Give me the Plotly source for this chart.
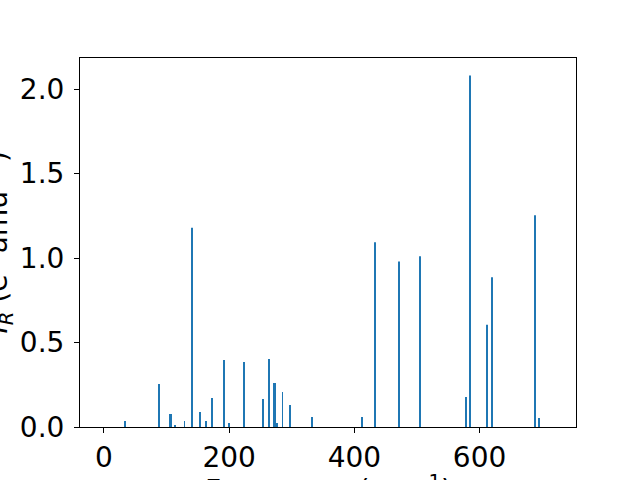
import plotly.graph_objects as go

# Frequencies (cm^-1) and IR intensities
freqs = [34, 88.4, 106.0, 107.2, 114, 128.8, 141, 153.9, 163.5, 172.0, 173.2,
         192.2, 200.2, 224, 254.5, 263, 272.0, 273.2, 276, 285, 297.7,
         331.5, 332.7, 412.6, 433.4, 471.7, 505.3, 578.8, 585.1, 612.3,
         620.3, 689, 695.4]
intens = [0.035, 0.254, 0.077, 0.077, 0.012, 0.035, 1.18, 0.089, 0.035, 0.171, 0.171,
          0.396, 0.024, 0.384, 0.166, 0.402, 0.26, 0.26, 0.024, 0.207, 0.13,
          0.059, 0.059, 0.059, 1.093, 0.98, 1.01, 0.177, 2.08, 0.605,
          0.886, 1.253, 0.053]
x_ticks = [0, 200, 400, 600]
y_ticks = [0.0, 0.5, 1.0, 1.5, 2.0]

font_family = "DejaVu Sans"
FS = 28

fig = go.Figure(go.Bar(x=freqs, y=intens, width=1.25,
                       marker=dict(color="#1f77b4", line=dict(width=0))))

axis_common = dict(showline=True, linecolor="black", linewidth=1.1, mirror=True,
                   ticks="outside", ticklen=5, tickwidth=1.1, tickcolor="black",
                   showgrid=False, zeroline=False, automargin=False,
                   tickfont=dict(family=font_family, size=FS, color="black"))

fig.update_layout(
    width=640, height=480,
    margin=dict(l=80, r=64, t=58, b=53),
    paper_bgcolor="white", plot_bgcolor="white",
    showlegend=False,
    xaxis=dict(range=[-38.3, 754], tickvals=x_ticks,
               ticktext=[str(v) for v in x_ticks], ticklabelstandoff=0,
               **axis_common),
    yaxis=dict(range=[0, 2.184], tickvals=y_ticks,
               ticktext=[f"{v:.1f}" for v in y_ticks], ticklabelstandoff=4,
               **axis_common),
    annotations=[
        dict(text="<i>I<sub>R</sub></i> (e<sup>2</sup> amu<sup>−1</sup>)",
             xref="paper", yref="paper", x=(-2 - 80) / 496, y=0.5,
             xanchor="center", yanchor="middle", textangle=-90, showarrow=False,
             font=dict(family=font_family, size=FS, color="black")),
        dict(text="Frequency (cm<sup>−1</sup>)",
             xref="paper", yref="paper", x=0.5, y=-41 / 369,
             xanchor="center", yanchor="top", showarrow=False,
             font=dict(family=font_family, size=FS, color="black")),
    ],
)

fig.write_html("out.html", config={"displayModeBar": False},
               post_script="document.body.style.margin='0';")
